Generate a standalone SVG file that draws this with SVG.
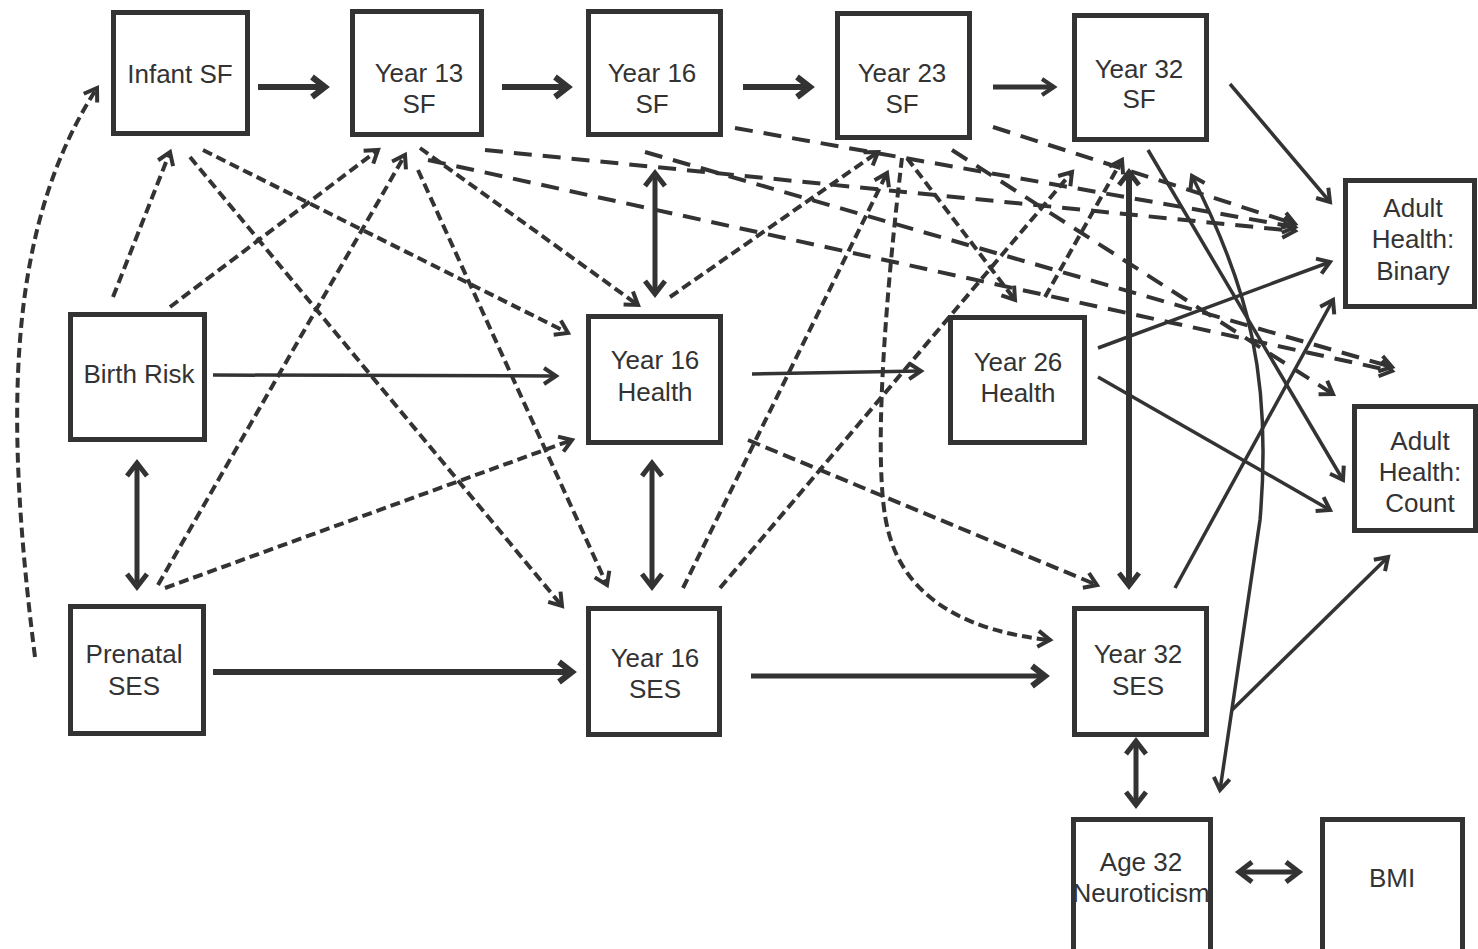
<svg xmlns="http://www.w3.org/2000/svg" width="1478" height="949" viewBox="0 0 1478 949">
  <style>
    .box { fill: #fff; stroke: #333; stroke-width: 5; }
    .lbl { font-family: "Liberation Sans", Arial, sans-serif; font-size: 26px; fill: #333; text-anchor: middle; }
    .c { fill: none; stroke: #333; stroke-linecap: butt; }
    .heavy { stroke-width: 6; }
    .mid { stroke-width: 5; }
    .thin { stroke-width: 3.5; }
    .dash { stroke-width: 4; stroke-dasharray: 10 5; }
    .dashm { stroke-width: 4; stroke-dasharray: 13 6; }
    .dashl { stroke-width: 4; stroke-dasharray: 18 11; }
  </style>
  <defs>
    <marker id="ah" viewBox="-20 -14 28 28" refX="0" refY="0" markerWidth="28" markerHeight="28" markerUnits="userSpaceOnUse" orient="auto">
      <path d="M-12,-8 L0,0 L-12,8" fill="none" stroke="#333" stroke-width="4"/>
    </marker>
    <marker id="ahr" viewBox="-20 -14 28 28" refX="0" refY="0" markerWidth="28" markerHeight="28" markerUnits="userSpaceOnUse" orient="auto-start-reverse">
      <path d="M-12,-8 L0,0 L-12,8" fill="none" stroke="#333" stroke-width="4"/>
    </marker>
    <marker id="ahb" viewBox="-24 -16 32 32" refX="0" refY="0" markerWidth="32" markerHeight="32" markerUnits="userSpaceOnUse" orient="auto">
      <path d="M-13,-10 L0,0 L-13,10" fill="none" stroke="#333" stroke-width="6"/>
    </marker>
    <marker id="ahbr" viewBox="-24 -16 32 32" refX="0" refY="0" markerWidth="32" markerHeight="32" markerUnits="userSpaceOnUse" orient="auto-start-reverse">
      <path d="M-13,-10 L0,0 L-13,10" fill="none" stroke="#333" stroke-width="5"/>
    </marker>
  </defs>

  <g id="connectors">
    <!-- solid paths along the SF chain -->
    <line class="c heavy" x1="258" y1="87" x2="325" y2="87" marker-end="url(#ahb)"/>
    <line class="c heavy" x1="502" y1="87" x2="568" y2="87" marker-end="url(#ahb)"/>
    <line class="c heavy" x1="743" y1="87" x2="810" y2="87" marker-end="url(#ahb)"/>
    <line class="c mid" x1="993" y1="87" x2="1054" y2="87" marker-end="url(#ah)"/>

    <!-- solid paths between health and SES -->
    <line class="c thin" x1="213" y1="375" x2="556" y2="376" marker-end="url(#ah)"/>
    <line class="c thin" x1="752" y1="374" x2="921" y2="371" marker-end="url(#ah)"/>
    <line class="c heavy" x1="213" y1="672" x2="572" y2="672" marker-end="url(#ahb)"/>
    <line class="c mid" x1="751" y1="676" x2="1045" y2="676" marker-end="url(#ahb)"/>

    <!-- correlations -->
    <line class="c mid" x1="655" y1="173" x2="655" y2="294" marker-start="url(#ahbr)" marker-end="url(#ahbr)"/>
    <line class="c mid" x1="652" y1="463" x2="652" y2="587" marker-start="url(#ahbr)" marker-end="url(#ahbr)"/>
    <line class="c mid" x1="137" y1="463" x2="137" y2="587" marker-start="url(#ahbr)" marker-end="url(#ahbr)"/>
    <line class="c heavy" x1="1129" y1="172" x2="1129" y2="586" marker-start="url(#ahbr)" marker-end="url(#ahbr)"/>
    <line class="c mid" x1="1136" y1="741" x2="1136" y2="805" marker-start="url(#ahbr)" marker-end="url(#ahbr)"/>
    <line class="c mid" x1="1239" y1="872" x2="1299" y2="872" marker-start="url(#ahbr)" marker-end="url(#ahbr)"/>
    <path class="c thin" d="M1192,176 C1250,290 1272,380 1260,520 L1220,790" marker-start="url(#ahr)" marker-end="url(#ahr)"/>

    <!-- solid paths into adult health -->
    <line class="c thin" x1="1230" y1="84" x2="1330" y2="202" marker-end="url(#ah)"/>
    <line class="c thin" x1="1148" y1="150" x2="1343" y2="480" marker-end="url(#ah)"/>
    <line class="c thin" x1="1098" y1="348" x2="1330" y2="262" marker-end="url(#ah)"/>
    <line class="c thin" x1="1098" y1="377" x2="1330" y2="510" marker-end="url(#ah)"/>
    <line class="c thin" x1="1175" y1="588" x2="1333" y2="300" marker-end="url(#ah)"/>
    <line class="c thin" x1="1232" y1="710" x2="1388" y2="557" marker-end="url(#ah)"/>

    <!-- dashed paths -->
    <path class="c dash" d="M35,657 C5,420 5,230 97,88" marker-end="url(#ah)"/>
    <line class="c dash" x1="113" y1="297" x2="170" y2="152" marker-end="url(#ah)"/>
    <line class="c dash" x1="170" y1="307" x2="378" y2="150" marker-end="url(#ah)"/>
    <line class="c dash" x1="158" y1="585" x2="405" y2="155" marker-end="url(#ah)"/>
    <line class="c dash" x1="165" y1="588" x2="572" y2="440" marker-end="url(#ah)"/>
    <line class="c dash" x1="203" y1="150" x2="568" y2="333" marker-end="url(#ah)"/>
    <line class="c dash" x1="190" y1="157" x2="562" y2="606" marker-end="url(#ah)"/>
    <line class="c dash" x1="418" y1="170" x2="607" y2="585" marker-end="url(#ah)"/>
    <line class="c dash" x1="420" y1="148" x2="638" y2="305" marker-end="url(#ah)"/>
    <line class="c dash" x1="670" y1="297" x2="878" y2="152" marker-end="url(#ah)"/>
    <line class="c dash" x1="683" y1="588" x2="887" y2="173" marker-end="url(#ah)"/>
    <line class="c dash" x1="720" y1="588" x2="1072" y2="172" marker-end="url(#ah)"/>
    <line class="c dash" x1="907" y1="158" x2="1015" y2="300" marker-end="url(#ah)"/>
    <path class="c dash" d="M902,158 C885,300 872,470 888,530 C905,600 970,632 1050,640" marker-end="url(#ah)"/>
    <line class="c dash" x1="1045" y1="297" x2="1122" y2="160" marker-end="url(#ah)"/>
    <line class="c dashm" x1="748" y1="440" x2="1097" y2="585" marker-end="url(#ah)"/>

    <!-- long dashed paths into adult health -->
    <line class="c dashl" x1="485" y1="150" x2="1295" y2="231" marker-end="url(#ah)"/>
    <line class="c dashl" x1="428" y1="160" x2="1392" y2="371" marker-end="url(#ah)"/>
    <line class="c dashl" x1="735" y1="128" x2="1295" y2="227" marker-end="url(#ah)"/>
    <line class="c dashl" x1="645" y1="152" x2="1392" y2="367" marker-end="url(#ah)"/>
    <line class="c dashl" x1="993" y1="127" x2="1295" y2="224" marker-end="url(#ah)"/>
    <line class="c dashl" x1="952" y1="150" x2="1333" y2="394" marker-end="url(#ah)"/>
  </g>

  <g id="infant-sf"><rect class="box" x="113.5" y="12.5" width="134" height="121"/><text class="lbl" x="180" y="83">Infant SF</text></g>
  <g id="year13-sf"><rect class="box" x="352.5" y="11.5" width="129" height="123"/><text class="lbl" x="419" y="82">Year 13</text><text class="lbl" x="419" y="113">SF</text></g>
  <g id="year16-sf"><rect class="box" x="588.5" y="11.5" width="132" height="123"/><text class="lbl" x="652" y="82">Year 16</text><text class="lbl" x="652" y="113">SF</text></g>
  <g id="year23-sf"><rect class="box" x="837.5" y="13.5" width="132" height="124"/><text class="lbl" x="902" y="82">Year 23</text><text class="lbl" x="902" y="113">SF</text></g>
  <g id="year32-sf"><rect class="box" x="1074.5" y="15.5" width="132" height="124"/><text class="lbl" x="1139" y="78">Year 32</text><text class="lbl" x="1139" y="108">SF</text></g>
  <g id="adult-binary"><rect class="box" x="1345.5" y="180.5" width="129" height="126"/><text class="lbl" x="1413" y="217">Adult</text><text class="lbl" x="1413" y="248">Health:</text><text class="lbl" x="1413" y="280">Binary</text></g>
  <g id="birth-risk"><rect class="box" x="70.5" y="314.5" width="134" height="125"/><text class="lbl" x="139" y="383">Birth Risk</text></g>
  <g id="year16-health"><rect class="box" x="588.5" y="316.5" width="132" height="126"/><text class="lbl" x="655" y="369">Year 16</text><text class="lbl" x="655" y="401">Health</text></g>
  <g id="year26-health"><rect class="box" x="950.5" y="317.5" width="134" height="125"/><text class="lbl" x="1018" y="371">Year 26</text><text class="lbl" x="1018" y="402">Health</text></g>
  <g id="adult-count"><rect class="box" x="1354.5" y="406.5" width="121" height="124"/><text class="lbl" x="1420" y="450">Adult</text><text class="lbl" x="1420" y="481">Health:</text><text class="lbl" x="1420" y="512">Count</text></g>
  <g id="prenatal-ses"><rect class="box" x="70.5" y="606.5" width="133" height="127"/><text class="lbl" x="134" y="663">Prenatal</text><text class="lbl" x="134" y="695">SES</text></g>
  <g id="year16-ses"><rect class="box" x="588.5" y="608.5" width="131" height="126"/><text class="lbl" x="655" y="667">Year 16</text><text class="lbl" x="655" y="698">SES</text></g>
  <g id="year32-ses"><rect class="box" x="1074.5" y="608.5" width="132" height="126"/><text class="lbl" x="1138" y="663">Year 32</text><text class="lbl" x="1138" y="695">SES</text></g>
  <g id="neuroticism"><rect class="box" x="1073.5" y="819.5" width="137" height="140"/><text class="lbl" x="1141" y="871">Age 32</text><text class="lbl" x="1141" y="902">Neuroticism</text></g>
  <g id="bmi"><rect class="box" x="1322.5" y="819.5" width="140" height="140"/><text class="lbl" x="1392" y="887">BMI</text></g>
</svg>
